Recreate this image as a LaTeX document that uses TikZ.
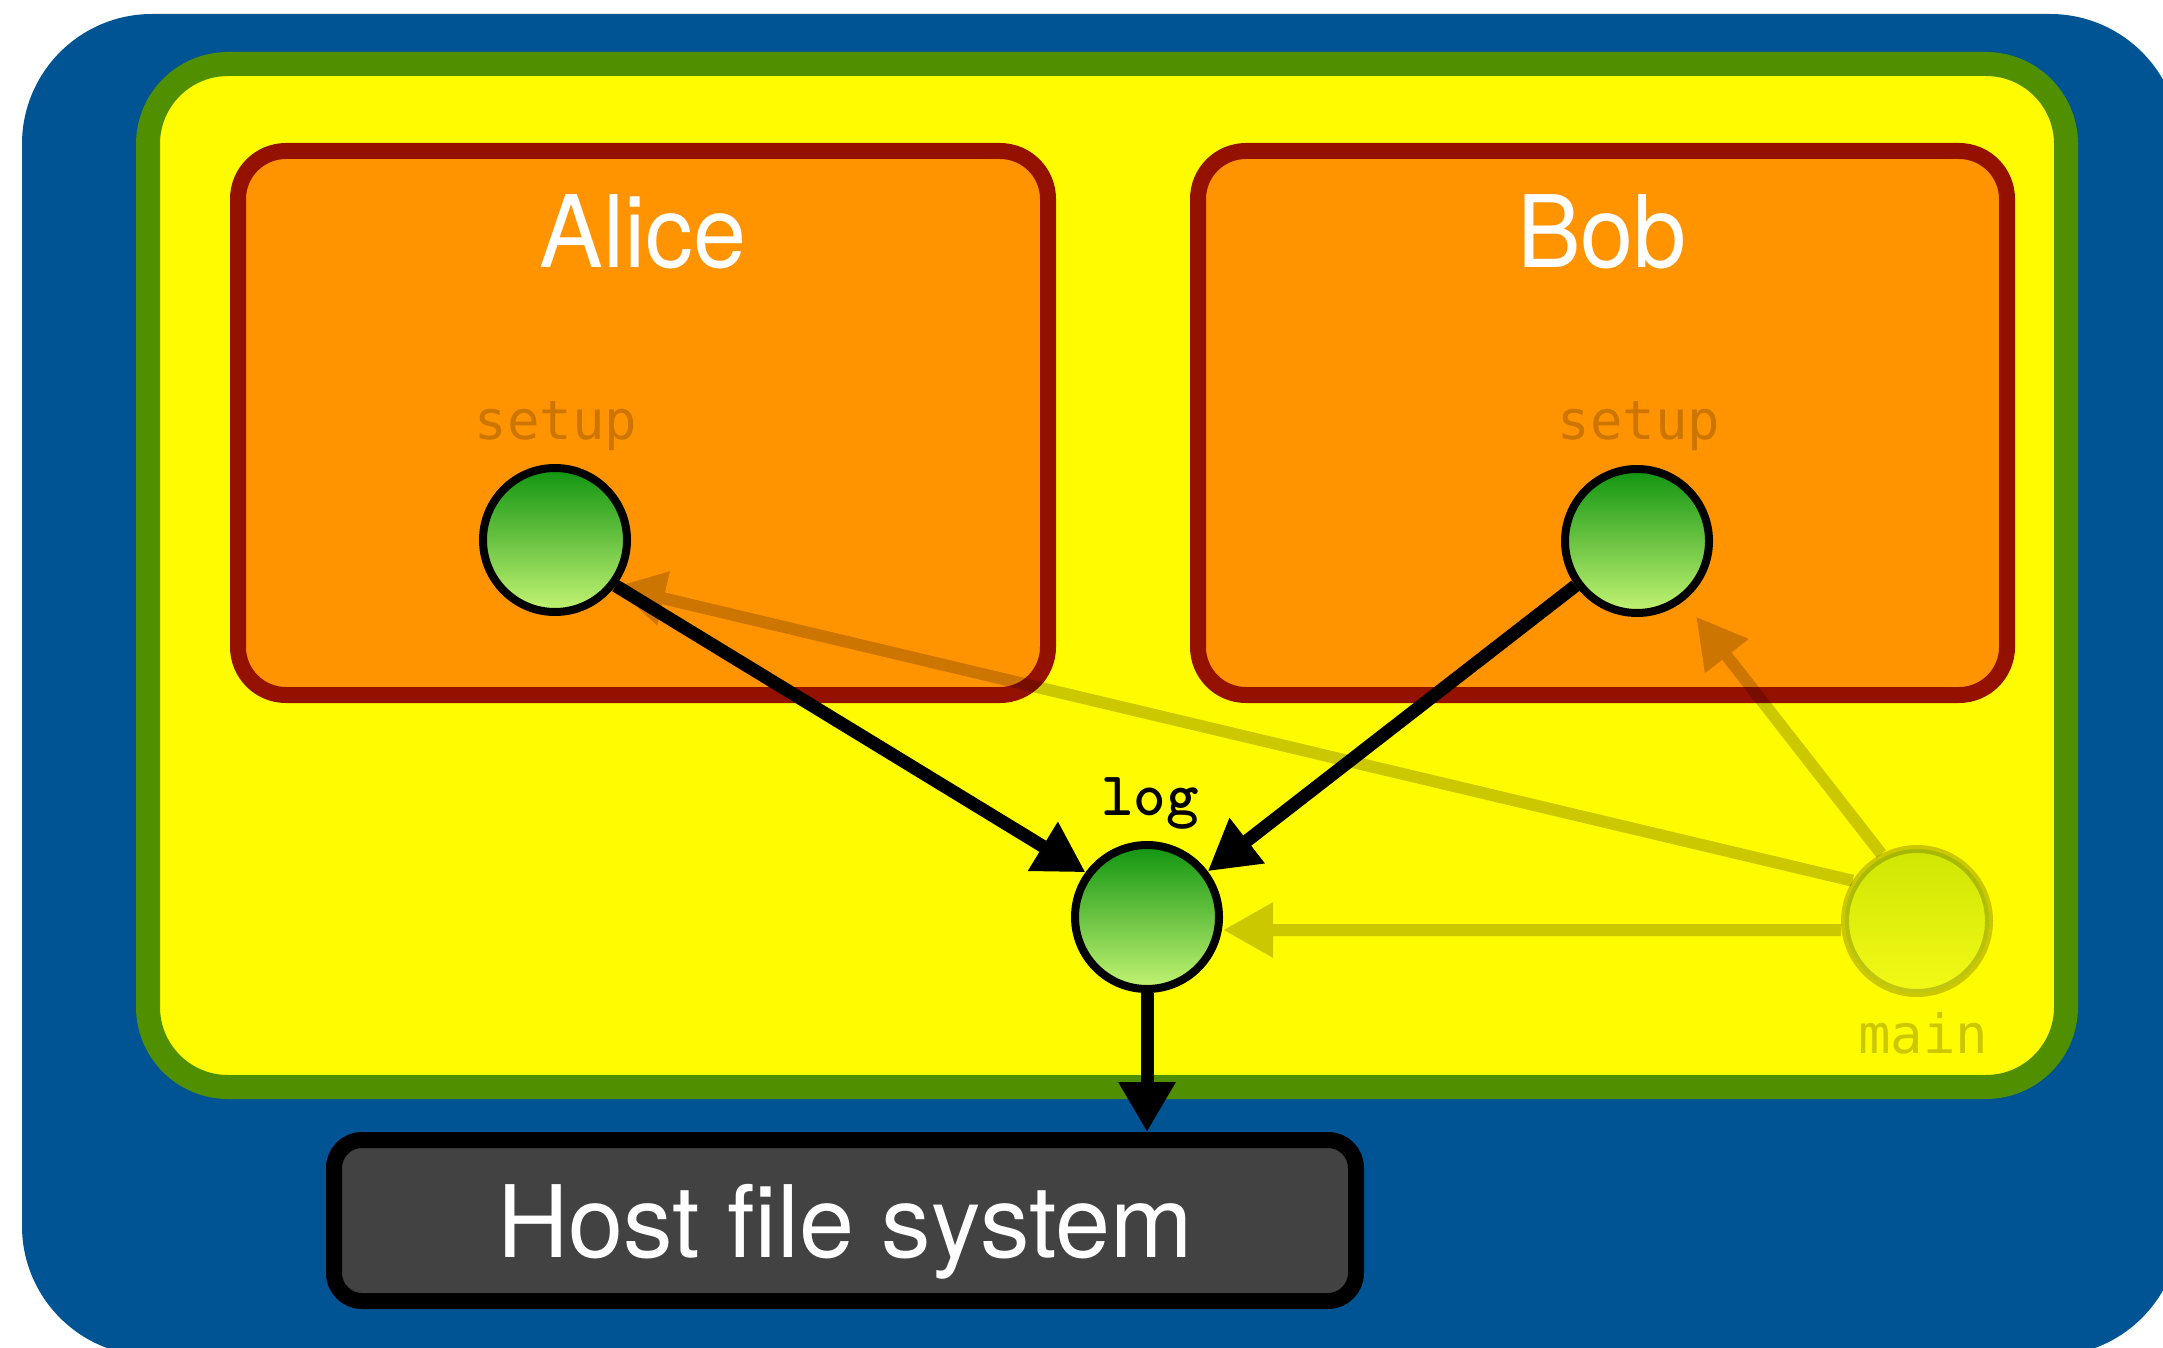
\documentclass[tikz,border=0pt]{standalone}
\usepackage{fontspec}
\newfontfamily\hvfont[FakeStretch=0.955]{TeX Gyre Heros}
\newfontfamily\hvwide[FakeStretch=0.99]{TeX Gyre Heros}
\newfontfamily\dvmono{DejaVu Sans Mono}
\usetikzlibrary{arrows.meta}
\definecolor{ocean}{RGB}{0,84,147}
\definecolor{fern}{RGB}{79,143,0}
\definecolor{lemon}{RGB}{255,251,0}
\definecolor{tangerine}{RGB}{255,147,0}
\definecolor{cayenne}{RGB}{148,17,0}
\definecolor{tungsten}{RGB}{66,66,66}
\definecolor{dotTop}{RGB}{16,148,16}
\definecolor{dotBot}{RGB}{196,244,116}
\begin{document}
\begin{tikzpicture}[x=0.5pt,y=-0.5pt,
  dot/.style={circle, draw=black, line width=4pt, minimum size=72pt, inner sep=0pt,
              top color=dotTop, bottom color=dotBot},
  bigtext/.style={font=\hvfont\fontsize{50pt}{60pt}\selectfont, text=white, inner sep=0pt},
  monolbl/.style={font=\dvmono\fontsize{27pt}{30pt}\selectfont, text=black, text opacity=0.2, inner sep=0pt},
  loglbl/.style={font=\ttfamily\bfseries\fontsize{31pt}{34pt}\selectfont, text=black, inner sep=0pt},
  userbox/.style={draw=cayenne, line width=8pt, fill=tangerine, rounded corners=24pt},
  hostbox/.style={draw=black, line width=8pt, fill=tungsten, rounded corners=14pt,
                  minimum width=511pt, minimum height=80.5pt, inner sep=0pt, text depth=0pt,
                  font=\hvwide\fontsize{50pt}{60pt}\selectfont, text=white},
  fadedarrow/.style={draw=black, line width=6pt, -{Triangle[length=25pt,width=26pt]}},
  solidarrow/.style={draw=black, line width=6.5pt, -{Triangle[length=25pt,width=27pt]}}]
\useasboundingbox (0,0) rectangle (2163,1348);
\clip (0,0) rectangle (2163,1348);
% outer blue container
\fill[ocean, rounded corners=65pt] (22,14) rectangle (2180,1356);
% yellow pod
\draw[fern, line width=12pt, fill=lemon, rounded corners=40pt] (148,64) rectangle (2066,1087);
% user boxes
\draw[userbox] (238,151) rectangle (1048,695);
\draw[userbox] (1198,151) rectangle (2007,695);
\node[bigtext, anchor=base] (alice) at (643,268) {Alice};
\node[bigtext, anchor=base] (bob) at (1602,268) {Bob};
% labels
\node[monolbl, anchor=base] (lsa) at (556,439) {setup};
\node[monolbl, anchor=base] (lsb) at (1639,439) {setup};
\node[loglbl, anchor=base] (llog) at (1150,815) {log};
\node[monolbl, anchor=base] (lmain) at (1923,1053) {main};
% circles
\node[dot] (setupA) at (555,540) {};
\node[dot] (setupB) at (1637,541) {};
\node[dot] (log) at (1147,917) {};
\node[dot, opacity=0.2] (main) at (1917,921) {};
% host
\node[hostbox] (host) at (845,1220.5) {Host file system};
% faded arrows
\begin{scope}[transparency group, opacity=0.2]
  \draw[fadedarrow] (main.148) -- (setupA.-38);
\end{scope}
\begin{scope}[transparency group, opacity=0.2]
  \draw[fadedarrow, shorten >=10pt] (main.118) -- (setupB.-52);
\end{scope}
\begin{scope}[transparency group, opacity=0.2]
  \draw[fadedarrow] ([yshift=-4.5pt]main.west) -- ([yshift=-4.5pt]main.west -| log.east);
\end{scope}
% solid arrows
\draw[solidarrow] (setupA.-37) -- (log.144);
\draw[solidarrow] (setupB.216) -- (log.37);
\draw[solidarrow] (log.south) -- (log.south |- host.north);
\end{tikzpicture}
\end{document}
